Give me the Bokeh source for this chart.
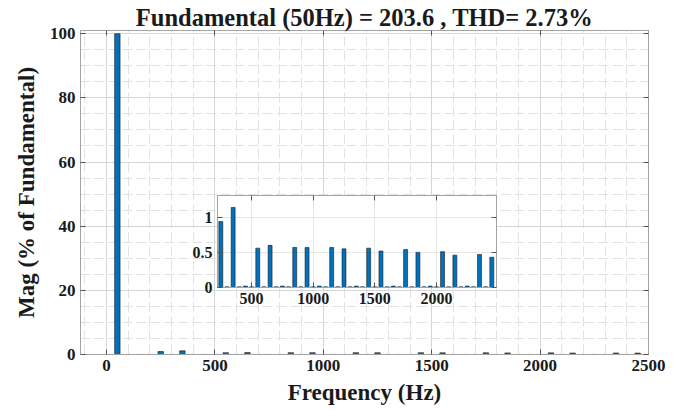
from bokeh.plotting import figure
from bokeh.models import (ColumnDataSource, LinearAxis, SingleIntervalTicker,
                          FixedTicker)
from bokeh.embed import file_html
from bokeh.resources import INLINE

# Harmonic spectrum: frequency of each bin (Hz) and magnitude (% of fundamental)
freq_hz = [0, 50, 100, 150, 200, 250, 300, 350, 400, 450,
           500, 550, 600, 650, 700, 750, 800, 850, 900, 950,
           1000, 1050, 1100, 1150, 1200, 1250, 1300, 1350, 1400, 1450,
           1500, 1550, 1600, 1650, 1700, 1750, 1800, 1850, 1900, 1950,
           2000, 2050, 2100, 2150, 2200, 2250, 2300, 2350, 2400, 2450]
mag_pct = [0.02, 100.0, 0.01, 0.02, 0.01, 0.94, 0.01, 1.14, 0.01, 0.02,
           0.01, 0.56, 0.01, 0.60, 0.01, 0.02, 0.01, 0.57, 0.01, 0.57,
           0.01, 0.02, 0.01, 0.57, 0.01, 0.55, 0.01, 0.02, 0.01, 0.56,
           0.01, 0.52, 0.01, 0.02, 0.01, 0.54, 0.01, 0.50, 0.01, 0.02,
           0.01, 0.51, 0.01, 0.46, 0.01, 0.02, 0.01, 0.47, 0.01, 0.43]

title_text = "Fundamental (50Hz) = 203.6 , THD= 2.73%"
x_label = "Frequency (Hz)"
y_label = "Mag (% of Fundamental)"

FONT = "Liberation Serif"
BAR_FILL = "#0072BD"
BAR_EDGE = "#1a1a1a"
FRAME = "#a3a3a3"

src = ColumnDataSource(dict(freq=freq_hz, mag=mag_pct))


def box_axes(fig, xticker, yticker, label_size):
    """Inward ticks on all four sides, MATLAB-style box."""
    for ax in fig.below + fig.left:
        ax.ticker = xticker if ax in fig.below else yticker
        ax.major_label_text_font = FONT
        ax.major_label_text_font_style = "bold"
        ax.major_label_text_font_size = label_size
        ax.major_label_text_color = "#1a1a1a"
        ax.major_label_standoff = 5
    for ticker, side in ((xticker, "above"), (yticker, "right")):
        extra = LinearAxis(ticker=ticker, major_label_text_font_size="0px",
                           major_label_standoff=0)
        fig.add_layout(extra, side)
    for ax in fig.below + fig.left + fig.above + fig.right:
        ax.major_tick_in = 5
        ax.major_tick_out = 0
        ax.minor_tick_in = 0
        ax.minor_tick_out = 0
        ax.axis_line_color = FRAME
        ax.major_tick_line_color = "#555555"
    fig.outline_line_color = FRAME


# ---- main spectrum ----
p = figure(width=686, height=410, x_range=(-120, 2500),
           y_range=(0, 101), output_backend="svg", toolbar_location=None,
           min_border_left=80, min_border_right=38, min_border_top=29,
           min_border_bottom=56, background_fill_color="white",
           border_fill_color="white")
p.vbar(x="freq", top="mag", width=25, source=src, fill_color=BAR_FILL,
       line_color=BAR_EDGE, line_width=0.6)

box_axes(p, SingleIntervalTicker(interval=500, num_minor_ticks=5),
         SingleIntervalTicker(interval=20, num_minor_ticks=4), "17px")

p.below[0].axis_label = x_label
p.left[0].axis_label = y_label
p.above[0].axis_label = title_text
for ax in (p.below[0], p.left[0], p.above[0]):
    ax.axis_label_text_font = FONT
    ax.axis_label_text_font_style = "bold"
    ax.axis_label_text_font_size = "23px"
    ax.axis_label_text_color = "#1a1a1a"
    ax.axis_label_standoff = 6
p.left[0].axis_label_standoff = 8
p.above[0].axis_label_text_font_size = "24.5px"
p.above[0].axis_label_standoff = 0

for g in (p.xgrid[0], p.ygrid[0]):
    g.grid_line_color = "#d6d6d6"
    g.minor_grid_line_color = "#e2e2e2"
    g.minor_grid_line_dash = "10 4"

# ---- zoomed inset of the harmonics, floated over the main plot ----
inset = figure(width=321, height=127, x_range=(223, 2488),
               y_range=(0, 1.31), output_backend="svg", toolbar_location=None,
               min_border_left=37, min_border_right=5, min_border_top=5,
               min_border_bottom=30, background_fill_color="white",
               border_fill_color=None,
               styles={"position": "absolute", "left": "180px", "top": "190px"})
inset.vbar(x="freq", top="mag", width=32, source=src, fill_color=BAR_FILL,
           line_color=BAR_EDGE, line_width=0.6)
box_axes(inset, FixedTicker(ticks=[500, 1000, 1500, 2000]),
         FixedTicker(ticks=[0, 0.5, 1]), "16px")
for g in (inset.xgrid[0], inset.ygrid[0]):
    g.grid_line_color = "#e6e6e6"

open("out.html", "w").write(file_html([p, inset], INLINE))
